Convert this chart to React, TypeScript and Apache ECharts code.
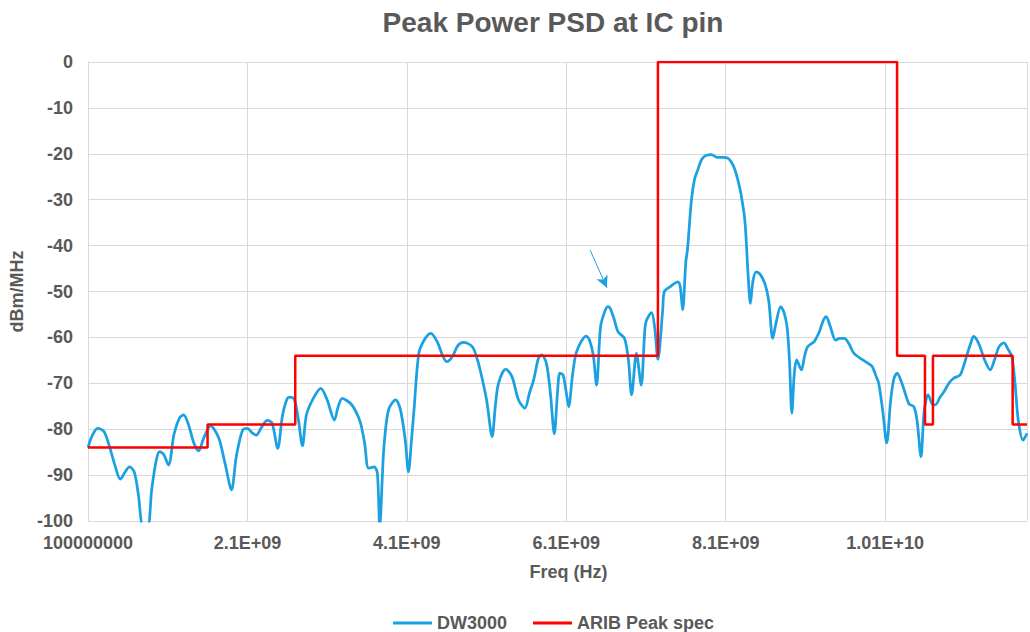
import React, { useEffect, useRef } from "react";
import * as echarts from "echarts";

// ---- data (frequency in GHz, level in dBm/MHz) ----
const dwFreqGHz = [
  0.10, 0.15, 0.22, 0.30, 0.37, 0.44, 0.505, 0.56, 0.62, 0.68, 0.73, 0.79, 0.85, 0.90, 0.96, 1.00, 1.05, 1.11,
  1.18, 1.25, 1.30, 1.36, 1.43, 1.49, 1.55, 1.64, 1.70, 1.75, 1.82, 1.90, 1.96, 2.04, 2.10, 2.16, 2.21, 2.28,
  2.35, 2.41, 2.48, 2.54, 2.60, 2.64, 2.69, 2.74, 2.79, 2.84, 2.92, 3.02, 3.10, 3.19, 3.24, 3.29, 3.35, 3.41,
  3.47, 3.52, 3.57, 3.62, 3.69, 3.73, 3.76, 3.81, 3.87, 3.96, 4.02, 4.08, 4.12, 4.16, 4.19, 4.25, 4.32, 4.40,
  4.48, 4.55, 4.60, 4.67, 4.74, 4.81, 4.92, 4.97, 5.02, 5.10, 5.17, 5.21, 5.25, 5.34, 5.42, 5.50, 5.58, 5.64,
  5.69, 5.75, 5.79, 5.85, 5.90, 5.95, 5.99, 6.02, 6.06, 6.10, 6.13, 6.18, 6.23, 6.35, 6.39, 6.44, 6.48, 6.53,
  6.58, 6.62, 6.65, 6.70, 6.75, 6.83, 6.88, 6.92, 6.98, 7.04, 7.08, 7.10, 7.17, 7.21, 7.25, 7.31, 7.33, 7.40,
  7.50, 7.53, 7.56, 7.60, 7.62, 7.67, 7.71, 7.75, 7.80, 7.86, 7.92, 8.00, 8.07, 8.13, 8.17, 8.21, 8.25, 8.29,
  8.34, 8.38, 8.41, 8.44, 8.48, 8.53, 8.59, 8.64, 8.69, 8.73, 8.79, 8.83, 8.87, 8.90, 8.93, 8.96, 8.99, 9.05,
  9.09, 9.13, 9.21, 9.27, 9.32, 9.36, 9.41, 9.48, 9.53, 9.59, 9.65, 9.71, 9.82, 9.90, 9.94, 9.99, 10.02, 10.07,
  10.12, 10.17, 10.21, 10.25, 10.30, 10.34, 10.40, 10.46, 10.50, 10.55, 10.59, 10.64, 10.69, 10.73, 10.79,
  10.84, 10.90, 10.96, 11.04, 11.08, 11.12, 11.17, 11.21, 11.25, 11.29, 11.35, 11.42, 11.47, 11.53, 11.59,
  11.64, 11.69, 11.73, 11.77, 11.83, 11.88,
];
const dwLevel = [
  -84.0, -81.5, -79.8, -80.5, -83.8, -88.0, -90.9, -89.5, -88.2, -89.3, -94.0, -101, -101, -93.0, -86.5, -84.9, -85.5, -87.8,
  -81.0, -77.5, -76.9, -79.0, -83.1, -84.7, -82.0, -79.3, -80.5, -82.4, -87.5, -93.2, -86.0, -80.2, -79.8, -80.8, -81.3, -79.5,
  -78.1, -78.7, -84.2, -77.0, -73.3, -73.0, -73.6, -78.0, -83.6, -76.9, -73.5, -71.1, -73.6, -78.0, -75.0, -73.3, -73.8, -74.7,
  -76.5, -78.7, -83.0, -88.5, -88.2, -89.6, -101, -84.5, -75.8, -73.6, -75.8, -82.4, -89.3, -82.0, -75.8, -63.5, -60.5, -59.1,
  -60.9, -64.0, -65.3, -64.2, -61.8, -61.1, -62.0, -64.0, -67.1, -73.6, -81.6, -75.0, -70.0, -66.9, -68.6, -73.6, -75.4, -72.0,
  -69.3, -64.6, -63.8, -65.6, -72.0, -81.0, -72.0, -67.8, -68.2, -72.0, -75.1, -68.0, -63.1, -59.7, -60.5, -64.0, -70.4, -57.7,
  -54.5, -53.3, -53.6, -56.0, -58.8, -60.2, -65.0, -72.5, -63.5, -70.4, -60.0, -56.6, -54.6, -58.0, -64.8, -54.0, -50.0, -49.0,
  -47.9, -49.0, -54.0, -43.5, -41.0, -30.1, -25.5, -23.5, -21.2, -20.3, -20.2, -20.8, -20.8, -21.0, -21.8, -23.2, -25.5, -28.6,
  -34.4, -46.0, -52.6, -48.0, -45.7, -46.2, -48.2, -52.0, -60.2, -57.0, -53.3, -54.5, -57.7, -65.0, -76.5, -68.0, -64.9, -67.1,
  -64.0, -62.0, -60.9, -59.0, -56.5, -55.5, -57.5, -60.6, -60.2, -60.2, -61.5, -63.5, -64.9, -65.8, -66.4, -68.6, -70.0, -76.0,
  -83.0, -73.6, -69.0, -67.8, -69.5, -71.5, -74.5, -75.1, -78.0, -86.0, -76.0, -72.5, -74.5, -74.7, -73.0,
  -71.8, -70.0, -68.9, -68.2, -66.5, -64.2, -61.5, -59.8, -60.5, -62.0, -65.0, -67.1, -65.0, -62.0, -61.2,
  -62.5, -64.2, -70.0, -78.0, -82.4, -80.9,
];

const aribFreqGHz = [0.1, 1.6, 2.7, 7.25, 10.25, 10.6, 10.7, 11.7, 11.88];
const aribLevel = [-84, -79, -64, 0, -64, -79, -64, -79, -79];

const xTickGHz = [0.1, 2.1, 4.1, 6.1, 8.1, 10.1];
const xTickLabels = ["100000000", "2.1E+09", "4.1E+09", "6.1E+09", "8.1E+09", "1.01E+10"];

// arrow annotation (start and tip in data units: GHz, dBm/MHz)
const arrowFrom = [6.40, -41.0];
const arrowTo = [6.61, -49.2];

const GHZ = 1e9;
const FONT = "'Liberation Sans', Arial, sans-serif";
const GREY = "#595959";
const GRID = "#d9d9d9";
const BLUE = "#1ba1e2";
const RED = "#ff0000";

export default function App() {
  const ref = useRef<HTMLDivElement>(null);

  useEffect(() => {
    if (!ref.current) return;
    const chart = echarts.init(ref.current, undefined, { renderer: "svg" });

    const dwData = dwFreqGHz.map((f, i) => [f * GHZ, dwLevel[i]]);
    const aribData = aribFreqGHz.map((f, i) => [f * GHZ, aribLevel[i]]);

    chart.setOption({
      animation: false,
      backgroundColor: "#ffffff",
      textStyle: { fontFamily: FONT },
      title: {
        text: "Peak Power PSD at IC pin",
        left: 548,
        top: 3,
        textAlign: "center",
        textStyle: { fontFamily: FONT, fontSize: 28, fontWeight: "bold", color: GREY },
      },
      legend: {
        left: 393,
        top: 614,
        padding: 0,
        icon: "rect",
        itemWidth: 39,
        itemHeight: 3,
        itemGap: 26,
        textStyle: { fontFamily: FONT, fontSize: 18, lineHeight: 18, fontWeight: "bold", color: GREY },
        data: ["DW3000", "ARIB Peak spec"],
      },
      grid: { left: 88, right: 0, top: 62, bottom: 111, containLabel: false },
      xAxis: {
        type: "value",
        min: 0.1 * GHZ,
        max: 11.88 * GHZ,
        interval: 2 * GHZ,
        name: "Freq (Hz)",
        nameLocation: "middle",
        nameGap: 42,
        nameTextStyle: { fontFamily: FONT, fontSize: 18, fontWeight: "bold", color: GREY, padding: [0, 0, 0, 22] },
        axisLine: { show: true, lineStyle: { color: GRID, width: 1 } },
        axisTick: { show: true, length: 5, lineStyle: { color: GRID } },
        splitLine: { show: true, lineStyle: { color: GRID, width: 1 } },
        axisLabel: {
          margin: 13,
          fontFamily: FONT,
          fontSize: 18,
          fontWeight: "bold",
          color: GREY,
          formatter: (v: number) => {
            const i = xTickGHz.findIndex((t) => Math.abs(t * GHZ - v) < 1e6);
            return i >= 0 ? xTickLabels[i] : "";
          },
        },
      },
      yAxis: {
        type: "value",
        min: -100,
        max: 0,
        interval: 10,
        name: "dBm/MHz",
        nameLocation: "middle",
        nameGap: 62,
        nameTextStyle: { fontFamily: FONT, fontSize: 18, fontWeight: "bold", color: GREY },
        axisLine: { show: true, lineStyle: { color: GRID, width: 1 } },
        axisTick: { show: false },
        splitLine: { show: true, lineStyle: { color: GRID, width: 1 } },
        axisLabel: { margin: 15, fontFamily: FONT, fontSize: 18, fontWeight: "bold", color: GREY },
      },
      series: [
        {
          name: "DW3000",
          type: "line",
          data: dwData,
          symbol: "none",
          smooth: 0.3,
          clip: true,
          lineStyle: { color: BLUE, width: 2.75 },
          itemStyle: { color: BLUE },
          markLine: {
            silent: true,
            symbol: ["none", "arrow"],
            symbolSize: [9, 12],
            label: { show: false },
            lineStyle: { color: BLUE, width: 1, type: "solid" },
            data: [[
              { coord: [arrowFrom[0] * GHZ, arrowFrom[1]] },
              { coord: [arrowTo[0] * GHZ, arrowTo[1]] },
            ]],
          },
        },
        {
          name: "ARIB Peak spec",
          type: "line",
          data: aribData,
          step: "end",
          symbol: "none",
          clip: true,
          lineStyle: { color: RED, width: 2.5 },
          itemStyle: { color: RED },
        },
      ],
    });

    return () => chart.dispose();
  }, []);

  return (
    <div
      ref={ref}
      style={{ position: "absolute", left: 0, top: 0, width: 1030, height: 632 }}
    />
  );
}
